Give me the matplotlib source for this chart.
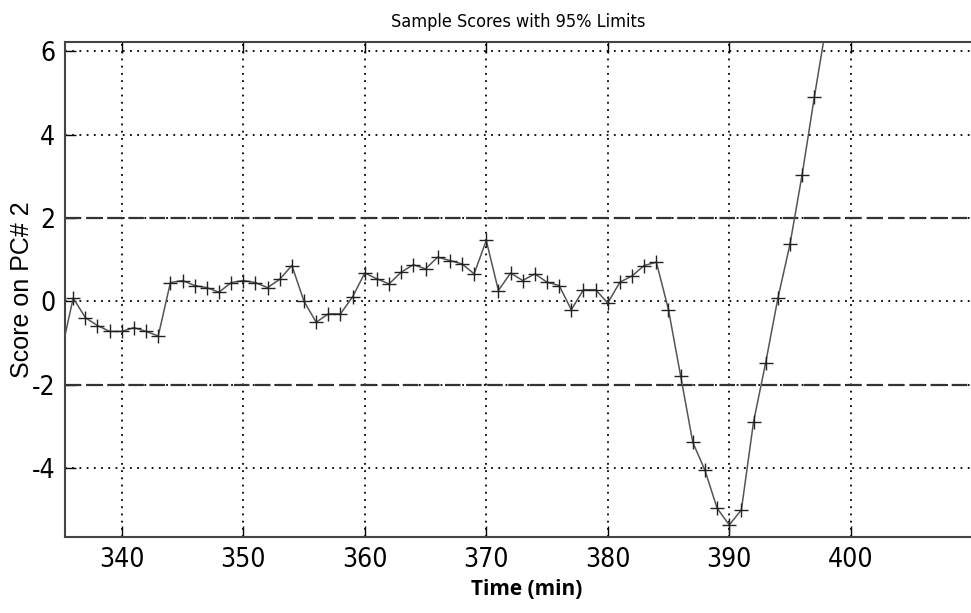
import numpy as np
import matplotlib
matplotlib.use("Agg")
import matplotlib.pyplot as plt
from matplotlib import font_manager

# ── Scores on PC#2, one sample per minute ─────────────────────────────────
time_min = list(range(335, 399))
score_pc2 = [
    -1.25, 0.08, -0.39, -0.58, -0.72, -0.72, -0.63, -0.72, -0.83, 0.45,
    0.50, 0.38, 0.33, 0.22, 0.45, 0.50, 0.45, 0.33, 0.53, 0.86,
    0.00, -0.50, -0.30, -0.30, 0.11, 0.68, 0.54, 0.42, 0.70, 0.88,
    0.78, 1.06, 0.98, 0.90, 0.66, 1.46, 0.26, 0.68, 0.50, 0.66,
    0.46, 0.38, -0.20, 0.28, 0.28, -0.04, 0.46, 0.61, 0.86, 0.94,
    -0.20, -1.79, -3.38, -4.05, -4.96, -5.36, -5.00, -2.89, -1.47, 0.07,
    1.37, 3.04, 4.89, 6.65,
]

# 95% confidence limits
limits = [2.0, -2.0]

x_ticks = [340, 350, 360, 370, 380, 390, 400]
y_ticks = [-4, -2, 0, 2, 4, 6]

plt.rcParams["axes.unicode_minus"] = False

# narrow face for ticks and title, if one is installed
condensed = [f for f in font_manager.fontManager.ttflist
             if "condensed" in str(f.stretch).lower()
             or "narrow" in f.name.lower() or "condensed" in f.name.lower()]
if condensed:
    narrow_props = dict(family=[condensed[0].name, "DejaVu Sans"],
                        stretch=condensed[0].stretch)
else:
    narrow_props = dict(family=["Liberation Sans", "DejaVu Sans"])

fig = plt.figure(figsize=(9.71, 6.13), dpi=100)
ax = fig.add_axes([0.067, 0.124, 0.933, 0.8075])

# first sample lies just left of the axis: line only, no marker
ax.plot(time_min, score_pc2, "-", color="#555555", linewidth=1.1,
        marker="+", markersize=10, markeredgewidth=1.0,
        markeredgecolor="#222222", markevery=slice(1, None), zorder=3)

for lim in limits:
    ax.axhline(lim, color="#333333", linewidth=1.6,
               linestyle=(0, (7, 2.5)), zorder=2)

ax.set_xlim(335.33, 409.9)
ax.set_ylim(-5.65, 6.22)
ax.set_xticks(x_ticks)
ax.set_yticks(y_ticks)

ax.grid(True, color="black", linestyle=(0, (1, 3)), linewidth=1.3)
ax.tick_params(direction="in", top=True, length=8, width=1, pad=7)
ax.set_xticklabels([str(v) for v in x_ticks])
ax.set_yticklabels([str(v) for v in y_ticks])
for lbl in ax.get_xticklabels() + ax.get_yticklabels():
    lbl.set(fontsize=19, **narrow_props)

ax.spines["right"].set_visible(False)
for side in ("left", "top", "bottom"):
    ax.spines[side].set_linewidth(1.5)
    ax.spines[side].set_color("#444444")

ax.set_title("Sample Scores with 95% Limits", fontsize=13, pad=11,
             **narrow_props)
ax.set_xlabel("Time (min)", family=["Open Sans", "DejaVu Sans"],
              fontweight="bold", fontsize=15)
ax.xaxis.set_label_coords(0.51, -0.085)
ax.set_ylabel("Score on PC# 2", family=["Liberation Sans", "DejaVu Sans"],
              fontsize=18)
ax.yaxis.set_label_coords(-0.034, 0.5)

fig.savefig("out.png", dpi=100)
